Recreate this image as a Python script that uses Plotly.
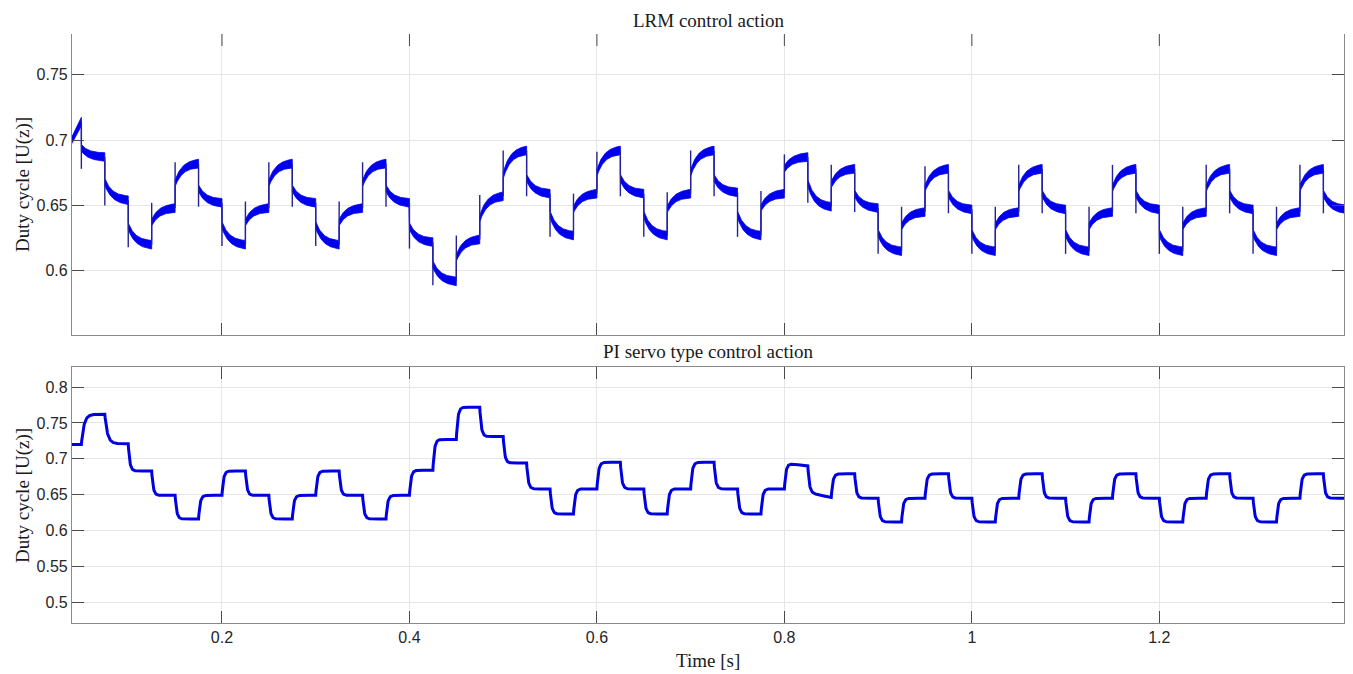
import numpy as np
import plotly.graph_objects as go

# ---------------- data ----------------
# segment boundaries (s): reference steps every 25 ms
seg_edges = [0.04, 0.05, 0.075, 0.1, 0.125, 0.15, 0.175, 0.2, 0.225, 0.25, 0.275,
             0.3, 0.325, 0.35, 0.375, 0.4, 0.425, 0.45, 0.475, 0.5, 0.525,
             0.55, 0.575, 0.6, 0.625, 0.65, 0.675, 0.7, 0.725, 0.75, 0.775,
             0.8, 0.825, 0.85, 0.875, 0.9, 0.925, 0.95, 0.975, 1.0, 1.025,
             1.05, 1.075, 1.1, 1.125, 1.15, 1.175, 1.2, 1.225, 1.25, 1.275,
             1.3, 1.325, 1.35, 1.375, 1.4]

# LRM control action: value at segment start, at segment end, and spike tip at the step
lrm_start = [0.700, 0.694, 0.668, 0.634, 0.637, 0.667, 0.663, 0.635, 0.637, 0.667,
             0.663, 0.635, 0.637, 0.667, 0.663, 0.634, 0.605, 0.610, 0.640, 0.673,
             0.671, 0.643, 0.647, 0.675, 0.671, 0.643, 0.647, 0.675, 0.671, 0.643,
             0.648, 0.678, 0.667, 0.666, 0.659, 0.629, 0.634, 0.663, 0.659, 0.629,
             0.634, 0.663, 0.659, 0.629, 0.634, 0.663, 0.659, 0.629, 0.634, 0.663,
             0.659, 0.629, 0.634, 0.663, 0.659]
lrm_end = [0.714, 0.687, 0.654, 0.620, 0.648, 0.682, 0.652, 0.620, 0.648, 0.682,
           0.652, 0.620, 0.648, 0.682, 0.652, 0.622, 0.592, 0.624, 0.657, 0.692,
           0.659, 0.627, 0.659, 0.692, 0.659, 0.627, 0.659, 0.692, 0.660, 0.627,
           0.659, 0.687, 0.649, 0.678, 0.648, 0.615, 0.645, 0.678, 0.647, 0.615,
           0.645, 0.678, 0.647, 0.615, 0.645, 0.678, 0.647, 0.615, 0.645, 0.678,
           0.647, 0.615, 0.645, 0.678, 0.647]
lrm_spike = [None, 0.678, 0.650, 0.618, 0.652, 0.683, 0.649, 0.619, 0.653, 0.683,
             0.649, 0.619, 0.653, 0.683, 0.649, 0.617, 0.589, 0.627, 0.658, 0.692,
             0.657, 0.626, 0.659, 0.691, 0.657, 0.626, 0.660, 0.692, 0.657, 0.626,
             0.661, 0.689, 0.652, 0.681, 0.645, 0.613, 0.649, 0.680, 0.644, 0.613,
             0.649, 0.681, 0.644, 0.613, 0.649, 0.681, 0.644, 0.613, 0.649, 0.681,
             0.644, 0.613, 0.649, 0.681, 0.644]

# PI servo type control action: level at segment start and end
pi_start = [0.720, 0.762, 0.721, 0.683, 0.649, 0.616, 0.649, 0.683, 0.649, 0.616,
            0.649, 0.683, 0.649, 0.616, 0.649, 0.684, 0.727, 0.772, 0.731, 0.694,
            0.658, 0.623, 0.658, 0.695, 0.658, 0.623, 0.658, 0.695, 0.658, 0.623,
            0.658, 0.694, 0.653, 0.679, 0.645, 0.612, 0.645, 0.679, 0.645, 0.612,
            0.645, 0.679, 0.645, 0.612, 0.645, 0.679, 0.645, 0.612, 0.645, 0.679,
            0.645, 0.612, 0.645, 0.679, 0.645]
pi_end = [0.720, 0.762, 0.721, 0.683, 0.649, 0.616, 0.649, 0.683, 0.649, 0.616,
          0.649, 0.683, 0.649, 0.616, 0.649, 0.684, 0.727, 0.772, 0.731, 0.694,
          0.658, 0.623, 0.658, 0.695, 0.658, 0.623, 0.658, 0.695, 0.658, 0.623,
          0.658, 0.690, 0.646, 0.679, 0.645, 0.612, 0.645, 0.679, 0.645, 0.612,
          0.645, 0.679, 0.645, 0.612, 0.645, 0.679, 0.645, 0.612, 0.645, 0.679,
          0.645, 0.612, 0.645, 0.679, 0.645]

x_ticks = [0.2, 0.4, 0.6, 0.8, 1.0, 1.2]
x_ticktext = ["0.2", "0.4", "0.6", "0.8", "1", "1.2"]
top_yticks = [0.6, 0.65, 0.7, 0.75]
top_yticktext = ["0.6", "0.65", "0.7", "0.75"]
bot_yticks = [0.5, 0.55, 0.6, 0.65, 0.7, 0.75, 0.8]
bot_yticktext = ["0.5", "0.55", "0.6", "0.65", "0.7", "0.75", "0.8"]

# ---------------- build the drawn curves ----------------
BAND_W0, BAND_W1 = 0.0052, 0.0066   # ripple band thickness (value units)
n = len(lrm_start)
ux, uy, lx, ly = [], [], [], []
sx, sy = [], []
for i in range(n):
    t0, t1 = seg_edges[i], seg_edges[i + 1]
    tt = np.linspace(t0, t1, 50)
    tau = 0.05 if i == 0 else 0.008
    s = (1 - np.exp(-(tt - t0) / tau)) / (1 - np.exp(-(t1 - t0) / tau))
    c = lrm_start[i] + (lrm_end[i] - lrm_start[i]) * s
    w = BAND_W0 + (BAND_W1 - BAND_W0) * (tt - t0) / (t1 - t0)
    ux += list(tt); uy += list(c + w / 2)
    lx += list(tt); ly += list(c - w / 2)
    if lrm_spike[i] is not None:
        sx += [t0, t0, None]
        sy += [lrm_end[i - 1], lrm_spike[i], None]

px, py = [], []
prev = pi_start[0]
for i in range(n):
    t0, t1 = seg_edges[i], seg_edges[i + 1]
    tt = np.linspace(t0, t1, 80)
    tau = 0.0028 if i in (1, 2) else 0.0016
    target = pi_start[i] + (pi_end[i] - pi_start[i]) * (tt - t0) / (t1 - t0)
    y = target + (prev - pi_start[i]) * np.exp(-(tt - t0) / tau)
    px += list(tt); py += list(y)
    prev = y[-1]

BLUE = "rgb(0,0,238)"
fig = go.Figure()
fig.add_trace(go.Scatter(x=ux + lx[::-1], y=uy + ly[::-1], fill="toself",
                         fillcolor=BLUE, line=dict(color=BLUE, width=0.8),
                         mode="lines", xaxis="x", yaxis="y", hoverinfo="skip",
                         showlegend=False))
fig.add_trace(go.Scatter(x=sx, y=sy, mode="lines",
                         line=dict(color="rgb(35,35,150)", width=1.4),
                         xaxis="x", yaxis="y", showlegend=False))
fig.add_trace(go.Scatter(x=px, y=py, mode="lines",
                         line=dict(color="rgb(0,0,225)", width=3.0),
                         xaxis="x2", yaxis="y2", showlegend=False))

# ---------------- layout ----------------
W, H = 1353, 674
ML, MR, MT, MB = 72, 9, 34, 51
plot_h = H - MT - MB
plot_w = W - ML - MR

def py_paper(pix):
    return (H - MB - pix) / plot_h

def px_paper(pix):
    return (pix - ML) / plot_w

AX_LINE = "#8a8a8a"
GRID = "#e6e6e6"
TICKC = "#4a4a4a"
tickfont = dict(family="Liberation Sans, Arial, sans-serif", size=16, color="#262626")
serif = "Liberation Serif, Times New Roman, serif"

common_x = dict(range=[0.04, 1.397], tickvals=x_ticks, ticktext=x_ticktext,
                ticks="inside", ticklen=12, tickcolor=TICKC, tickwidth=1,
                showgrid=True, gridcolor=GRID, gridwidth=1, zeroline=False,
                showline=True, linecolor=AX_LINE, linewidth=1.2, tickfont=tickfont)
common_y = dict(ticks="inside", ticklen=12, tickcolor=TICKC, tickwidth=1,
                showgrid=True, gridcolor=GRID, gridwidth=1, zeroline=False,
                showline=True, linecolor=AX_LINE, linewidth=1.2, mirror="ticks",
                tickfont=tickfont)

fig.update_layout(
    width=W, height=H,
    margin=dict(l=ML, r=MR, t=MT, b=MB),
    paper_bgcolor="white", plot_bgcolor="white",
    showlegend=False,
    xaxis=dict(common_x, anchor="y", domain=[0, 1], showticklabels=False),
    yaxis=dict(common_y, anchor="x", domain=[py_paper(335), 1],
               range=[0.551, 0.781], tickvals=top_yticks, ticktext=top_yticktext),
    xaxis2=dict(common_x, anchor="y2", domain=[0, 1], mirror="ticks"),
    yaxis2=dict(common_y, anchor="x2", domain=[0, py_paper(367)],
                range=[0.471, 0.828], tickvals=bot_yticks, ticktext=bot_yticktext),
)

# inward tick marks along the top edge of the upper axes (no border line there)
for xv in x_ticks:
    fig.add_shape(type="line", xref="x", yref="y domain", x0=xv, x1=xv,
                  y0=1, y1=1 - 12 / (335 - 34), line=dict(color=TICKC, width=1))

ann_font = dict(family=serif, size=19, color="#1a1a1a")
fig.add_annotation(text="LRM control action", xref="paper", yref="paper",
                   x=0.5, y=py_paper(20), showarrow=False, font=ann_font,
                   xanchor="center", yanchor="middle")
fig.add_annotation(text="PI servo type control action", xref="paper", yref="paper",
                   x=0.5, y=py_paper(351), showarrow=False, font=ann_font,
                   xanchor="center", yanchor="middle")
fig.add_annotation(text="Time [s]", xref="paper", yref="paper",
                   x=0.5, y=py_paper(660), showarrow=False, font=ann_font,
                   xanchor="center", yanchor="middle")
for yc in (185, 496):
    fig.add_annotation(text="Duty cycle [U(z)]", xref="paper", yref="paper",
                       x=px_paper(23), y=py_paper(yc), showarrow=False,
                       font=ann_font, textangle=-90,
                       xanchor="center", yanchor="middle")

fig.write_html("out.html", config={"displayModeBar": False},
               post_script="document.body.style.margin='0';document.body.style.overflow='hidden';")
